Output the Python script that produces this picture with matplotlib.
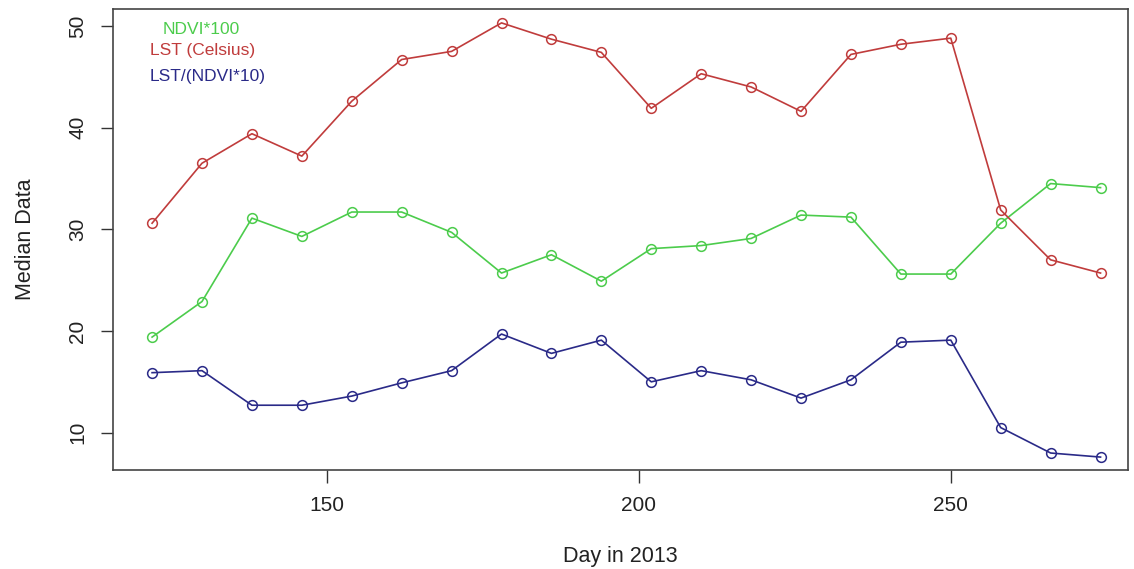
import matplotlib.pyplot as plt

plt.rcParams['font.family'] = ['Liberation Sans', 'DejaVu Sans']

days = [122, 130, 138, 146, 154, 162, 170, 178, 186, 194,
        202, 210, 218, 226, 234, 242, 250, 258, 266, 274]
ndvi100 = [19.4, 22.9, 31.1, 29.3, 31.7, 31.7, 29.7, 25.7, 27.5, 24.9,
           28.1, 28.4, 29.1, 31.4, 31.2, 25.6, 25.6, 30.6, 34.5, 34.1]
lst_c = [30.6, 36.5, 39.4, 37.2, 42.6, 46.7, 47.5, 50.3, 48.7, 47.4,
         41.9, 45.3, 44.0, 41.6, 47.2, 48.2, 48.8, 31.9, 27.0, 25.7]
lst_ndvi = [15.9, 16.1, 12.7, 12.7, 13.6, 14.9, 16.1, 19.7, 17.8, 19.1,
            15.0, 16.1, 15.2, 13.4, 15.2, 18.9, 19.1, 10.5, 8.0, 7.6]

labels = ['NDVI*100', 'LST (Celsius)', 'LST/(NDVI*10)']
colors = ['#4ccc4c', '#c03c3c', '#2a2a88']

fig = plt.figure(figsize=(11.34, 5.69), dpi=100)
ax = fig.add_axes([0.100, 0.174, 0.8947, 0.8097])

for ys, c in zip([ndvi100, lst_c, lst_ndvi], colors):
    ax.plot(days, ys, color=c, lw=1.2, marker='o', ms=7,
            mfc='none', mec=c, mew=1.1)

ax.set_xlim(115.8, 278.4)
ax.set_ylim(6.33, 51.64)
ax.set_xticks([150, 200, 250])
ax.set_yticks([10, 20, 30, 40, 50])
ax.tick_params(axis='both', length=9, width=1, color='#333333',
               labelsize=15, labelcolor='#222222', pad=10)
for lbl in ax.get_yticklabels():
    lbl.set_rotation(90)
    lbl.set_va('center')
for s in ax.spines.values():
    s.set_color('#444444')
    s.set_linewidth(1.2)

ax.set_xlabel('Day in 2013', fontsize=15.5, color='#222222', labelpad=22)
ax.set_ylabel('Median Data', fontsize=15.5, color='#222222', labelpad=23)

# legend text, no symbols
ax.text(0.0488, 0.957, labels[0], color=colors[0], fontsize=12.5,
        transform=ax.transAxes, va='center', ha='left')
ax.text(0.036, 0.9095, labels[1], color=colors[1], fontsize=12.5,
        transform=ax.transAxes, va='center', ha='left')
ax.text(0.036, 0.855, labels[2], color=colors[2], fontsize=12.5,
        transform=ax.transAxes, va='center', ha='left')

plt.savefig('out.png', dpi=100)
